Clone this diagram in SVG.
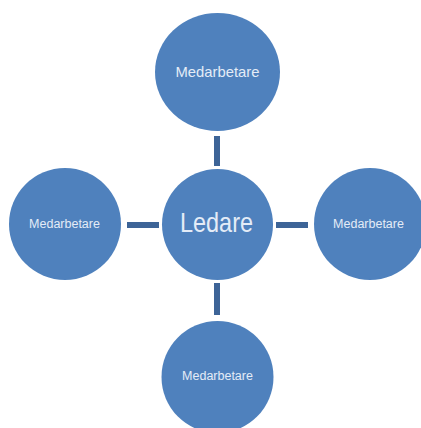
<svg xmlns="http://www.w3.org/2000/svg" width="421" height="428" viewBox="0 0 421 428">
<style>
.n{fill:#4F81BD;}
.t{font-family:"Liberation Sans",Arial,sans-serif;fill:#E4ECF7;text-anchor:middle;}
.c{fill:#3D6497;}
</style>
<rect width="421" height="428" fill="#FFFFFF"/>
<g id="connectors">
<rect class="c" x="214" y="136" width="6" height="30"/>
<rect class="c" x="214" y="283" width="6" height="32"/>
<rect class="c" x="127" y="222" width="32" height="6"/>
<rect class="c" x="276" y="222" width="32" height="6"/>
</g>
<g id="top">
<ellipse class="n" cx="217.5" cy="72" rx="62.5" ry="59"/>
<text class="t" x="217.5" y="77" font-size="14.8">Medarbetare</text>
</g>
<g id="center">
<circle class="n" cx="217.5" cy="224.5" r="55.5"/>
<text class="t" x="216.5" y="232" font-size="28" textLength="73" lengthAdjust="spacingAndGlyphs">Ledare</text>
</g>
<g id="left">
<circle class="n" cx="65" cy="224" r="56"/>
<text class="t" x="64.5" y="227.5" font-size="12.5">Medarbetare</text>
</g>
<g id="right">
<circle class="n" cx="370" cy="224" r="56"/>
<text class="t" x="368.5" y="227.5" font-size="12.5">Medarbetare</text>
</g>
<g id="bottom">
<circle class="n" cx="217.5" cy="377" r="56"/>
<text class="t" x="217.5" y="379.5" font-size="12.5">Medarbetare</text>
</g>
</svg>
